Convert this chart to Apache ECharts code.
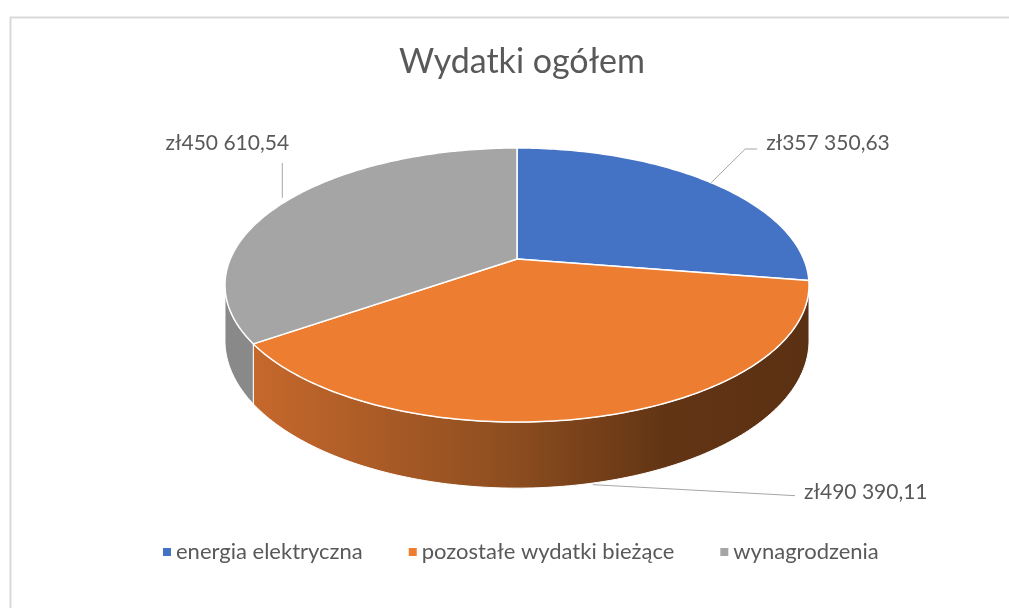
<!DOCTYPE html>
<html>
<head>
<meta charset="utf-8">
<script src="https://cdn.jsdelivr.net/npm/echarts@6/dist/echarts.min.js"></script>
<style>
  html, body { margin: 0; padding: 0; background: #fff; }
  #main { width: 1009px; height: 608px; }
</style>
</head>
<body>
<div id="main"></div>
<script>
// dane
var categories = ['energia elektryczna', 'pozostałe wydatki bieżące', 'wynagrodzenia'];
var values = [357350.63, 490390.11, 450610.54];
var labels = ['zł357 350,63', 'zł490 390,11', 'zł450 610,54'];
var colors = ['#4472c4', '#ed7d31', '#a5a5a5'];

// geometria "3D" (perspektywa jak w Excelu)
var cx = 517, cy = 259;
var kx = 286.7, ky = 132.1, persp = 0.19, depth = 53.5;
var FONT = 'Lato, "Noto Sans", sans-serif';
var TXT = '#595959';

var total = values.reduce(function (a, b) { return a + b; }, 0);
var starts = [], acc = 0;
values.forEach(function (v) { starts.push(acc / total * 360); acc += v; });

function proj(deg, drop) {
    var t = deg * Math.PI / 180;
    var q = 1 + persp * Math.cos(t);
    return [cx + kx * Math.sin(t) / q, cy - ky * Math.cos(t) / q + (drop || 0) / q];
}
function arc(a0, a1, drop) {
    var pts = [], n = Math.max(2, Math.ceil(Math.abs(a1 - a0)));
    for (var i = 0; i <= n; i++) pts.push(proj(a0 + (a1 - a0) * i / n, drop));
    return pts;
}
var visL = Math.acos(-persp) * 180 / Math.PI, visR = 360 - visL;

var wallFill = [
    '#2f4f88',
    new echarts.graphic.LinearGradient(253, 0, 809, 0, [
        { offset: 0, color: '#c6682c' },
        { offset: 0.45, color: '#8f4e20' },
        { offset: 0.75, color: '#613414' },
        { offset: 1, color: '#5b3113' }
    ], true),
    '#898989'
];

function renderWall(params, api) {
    var i = params.dataIndex;
    var a0 = starts[i], a1 = a0 + api.value(0) / total * 360;
    var s = Math.max(a0, visL), e = Math.min(a1, visR);
    if (e <= s) return null;
    var pts = arc(s, e, 0).concat(arc(e, s, depth));
    return {
        type: 'polygon',
        shape: { points: pts },
        style: { fill: wallFill[i], stroke: '#fff', lineWidth: 1 }
    };
}

function renderTop(params, api) {
    var i = params.dataIndex;
    var a0 = starts[i], a1 = a0 + api.value(0) / total * 360;
    var mid = (a0 + a1) / 2;
    var pts = [[cx, cy]].concat(arc(a0, a1, 0));
    var p = proj(mid, 0), line, txt;
    if (i === 0) {
        line = [p, [p[0] + 34, 149], [p[0] + 46, 149]];
        txt = { x: p[0] + 55, y: 143, align: 'left' };
    } else if (i === 1) {
        p = proj(mid, depth);
        line = [[p[0] - 3, p[1] + 2], [795, p[1] + 13]];
        txt = { x: 804, y: 492, align: 'left' };
    } else {
        line = [[p[0] - 1, p[1] - 5], [p[0] - 1, 163]];
        txt = { x: p[0] - 56, y: 143, align: 'center' };
    }
    return {
        type: 'group',
        children: [{
            type: 'polygon',
            shape: { points: pts },
            style: { fill: colors[i], stroke: '#fff', lineWidth: 1.5 }
        }, {
            type: 'polyline',
            shape: { points: line },
            style: { stroke: '#a6a6a6', lineWidth: 1, fill: null }
        }, {
            type: 'text',
            x: txt.x, y: txt.y,
            style: {
                text: labels[i], fill: TXT, font: '21px ' + FONT,
                align: txt.align, verticalAlign: 'middle'
            }
        }]
    };
}

var chart = echarts.init(document.getElementById('main'));
chart.setOption({
    animation: false,
    color: colors,
    title: {
        text: 'Wydatki ogółem',
        left: 517, top: 40, textAlign: 'center',
        textStyle: { fontFamily: FONT, fontSize: 34, fontWeight: 'normal', color: TXT }
    },
    legend: {
        left: 158, top: 536,
        icon: 'rect', itemWidth: 8, itemHeight: 8, itemGap: 46,
        textStyle: { fontFamily: FONT, fontSize: 22, color: TXT },
        data: categories
    },
    graphic: [{
        type: 'rect', left: 8, top: 15, silent: true,
        shape: { width: 1010, height: 600 },
        style: { fill: null, stroke: '#d9d9d9', lineWidth: 2 }
    }],
    series: [{
        type: 'custom', name: 'sciany', coordinateSystem: 'none', z: 1,
        renderItem: renderWall,
        data: values.map(function (v) { return [v]; })
    }, {
        type: 'custom', name: 'gora', coordinateSystem: 'none', z: 2,
        renderItem: renderTop,
        data: values.map(function (v) { return [v]; })
    }, {
        // tylko do legendy
        type: 'pie', radius: [0, 0], silent: true, label: { show: false },
        data: categories.map(function (c, i) { return { name: c, value: values[i] }; })
    }]
});
</script>
</body>
</html>
